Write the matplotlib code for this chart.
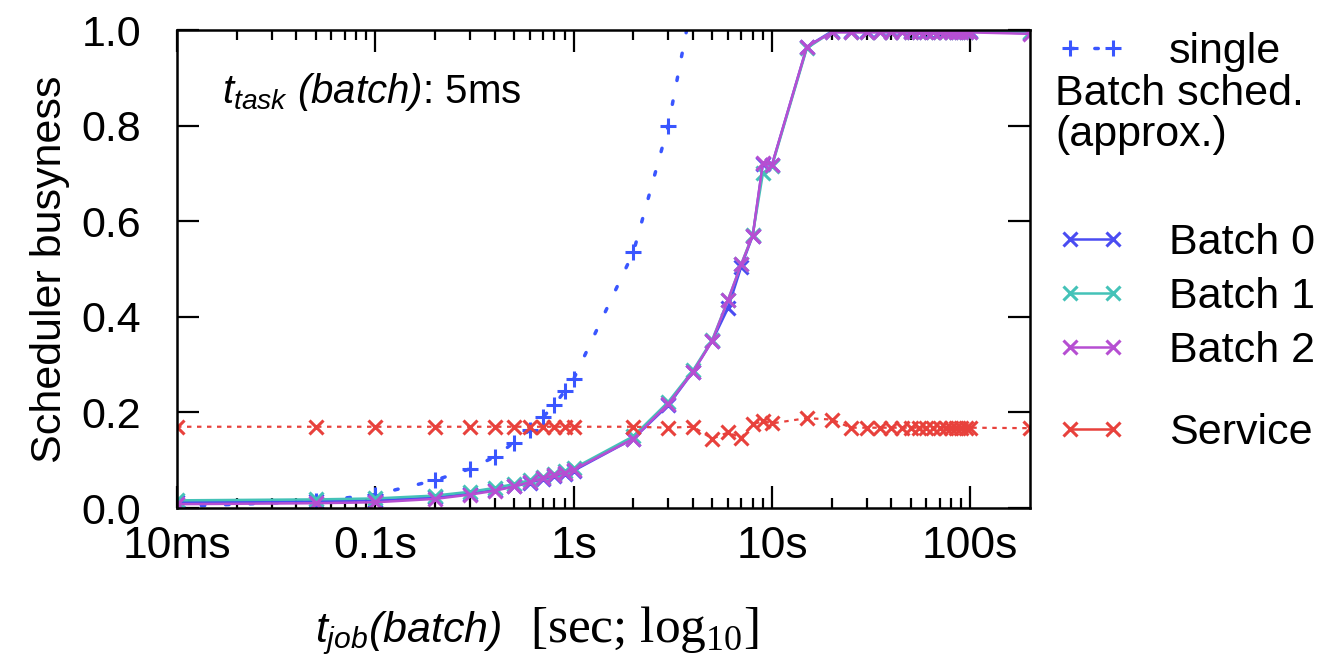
import matplotlib
matplotlib.use("Agg")
import matplotlib.pyplot as plt
from matplotlib.lines import Line2D
from matplotlib.ticker import FixedLocator, NullFormatter

plt.rcParams["font.family"] = ["Liberation Sans", "DejaVu Sans"]
# italic sans for the math parts (t_task, t_job, brackets), serif for "log"
plt.rcParams["mathtext.fontset"] = "custom"
plt.rcParams["mathtext.it"] = "Liberation Sans:italic"
plt.rcParams["mathtext.rm"] = "Liberation Sans:italic"
plt.rcParams["mathtext.sf"] = "Liberation Serif"

# job time (seconds) at which each point was measured
batch_x = [0.01, 0.05, 0.1, 0.2, 0.3, 0.4, 0.5, 0.6, 0.7, 0.8, 0.9, 1,
           2, 3, 4, 5, 6, 7, 8, 9, 10, 15, 20, 25, 30, 35, 40, 45, 50,
           55, 60, 65, 70, 75, 80, 85, 90, 95, 100, 200]
batch0 = [0.012, 0.014, 0.016, 0.022, 0.030, 0.038, 0.045, 0.053, 0.060,
          0.066, 0.072, 0.078, 0.145, 0.215, 0.285, 0.350, 0.418, 0.505,
          0.570, 0.720, 0.718, 0.965, 0.997, 0.997, 0.997, 0.997, 0.997,
          0.997, 0.997, 0.997, 0.997, 0.997, 0.997, 0.997, 0.997, 0.997,
          0.997, 0.997, 0.997, 0.993]
batch1 = [0.016, 0.018, 0.020, 0.026, 0.034, 0.042, 0.050, 0.058, 0.065,
          0.071, 0.077, 0.083, 0.150, 0.222, 0.288, 0.352, 0.435, 0.510,
          0.572, 0.700, 0.715, 0.962, 0.996, 0.996, 0.996, 0.996, 0.996,
          0.996, 0.996, 0.996, 0.996, 0.996, 0.996, 0.996, 0.996, 0.996,
          0.996, 0.996, 0.996, 0.995]
batch2 = [0.008, 0.010, 0.012, 0.019, 0.028, 0.036, 0.045, 0.054, 0.062,
          0.068, 0.074, 0.080, 0.145, 0.218, 0.285, 0.350, 0.435, 0.510,
          0.570, 0.722, 0.718, 0.965, 0.995, 0.995, 0.995, 0.995, 0.995,
          0.995, 0.995, 0.995, 0.995, 0.995, 0.995, 0.995, 0.995, 0.995,
          0.995, 0.995, 0.995, 0.992]
service = [0.170, 0.170, 0.170, 0.170, 0.170, 0.170, 0.170, 0.170, 0.170,
           0.170, 0.170, 0.170, 0.170, 0.168, 0.170, 0.145, 0.158, 0.147,
           0.175, 0.182, 0.177, 0.188, 0.185, 0.168, 0.168, 0.168, 0.168,
           0.168, 0.168, 0.168, 0.168, 0.168, 0.168, 0.168, 0.168, 0.168,
           0.168, 0.168, 0.168, 0.167]

single_x = [0.01, 0.05, 0.1, 0.2, 0.3, 0.4, 0.5, 0.6, 0.7, 0.8, 0.9, 1, 2, 3, 4]
single_y = [0.003, 0.014, 0.028, 0.058, 0.082, 0.107, 0.137, 0.163, 0.190,
            0.216, 0.244, 0.270, 0.535, 0.800, 1.070]

xticks = [0.01, 0.1, 1, 10, 100]
xticklabels = ["10ms", "0.1s", "1s", "10s", "100s"]
yticks = [0.0, 0.2, 0.4, 0.6, 0.8, 1.0]

C_SINGLE = "#3a56ff"
C_B0 = "#4a4cf2"
C_B1 = "#44c2b8"
C_B2 = "#b64ed2"
C_SVC = "#e8413c"
FS = 31

W, H = 1317, 657
fig = plt.figure(figsize=(W / 100, H / 100), dpi=100)
ax = fig.add_axes([177 / W, 1 - 508 / H, (1030 - 177) / W, (508 - 30) / H])

h_single, = ax.plot(single_x, single_y, color=C_SINGLE, ls=(0, (1, 6)), lw=2.5,
                    dash_capstyle="round", marker="+", ms=12, mew=2.2)
h_b0, = ax.plot(batch_x, batch0, color=C_B0, lw=1.8, marker="x", ms=10, mew=2.2)
h_b1, = ax.plot(batch_x, batch1, color=C_B1, lw=1.8, marker="x", ms=10, mew=2.2)
h_b2, = ax.plot(batch_x, batch2, color=C_B2, lw=1.8, marker="x", ms=10, mew=2.2)
ax.plot(batch_x, service, color=C_SVC, lw=1.6, ls=(0, (2, 2.5)),
        marker="x", ms=10, mew=2.2)

ax.set_xscale("log")
ax.set_xlim(0.01, 200)
ax.set_ylim(0, 1.0)
ax.set_xticks(xticks)
ax.set_xticklabels(xticklabels)
minors = [m * d for d in [0.01, 0.1, 1, 10] for m in range(2, 10)]
ax.xaxis.set_minor_locator(FixedLocator(minors))
ax.xaxis.set_minor_formatter(NullFormatter())
ax.set_yticks(yticks)
ax.set_yticklabels([f"{v:.1f}" for v in yticks])

ax.tick_params(which="both", direction="in", top=True, right=True, width=1.6)
ax.tick_params(which="major", length=16, labelsize=FS)
ax.tick_params(which="minor", length=7)
ax.tick_params(axis="x", which="major", pad=13, labelsize=32)
ax.tick_params(axis="y", which="major", pad=26)
for s in ax.spines.values():
    s.set_linewidth(1.8)

ax.set_ylabel("Scheduler busyness", fontsize=FS, labelpad=8)

# x label: italic sans part and a larger serif part on one baseline
fig.text(315 / W, 1 - 642 / H, r"$t_{job}(batch)$", fontsize=31,
         va="baseline", ha="left")
fig.text(530 / W, 1 - 642 / H, r"[sec; $\mathsf{log}_{\mathsf{10}}$]",
         fontsize=37, family="Liberation Serif", va="baseline", ha="left")

ax.text(0.053, 0.847, r"$t_{task}\ (batch)$: 5ms", transform=ax.transAxes,
        fontsize=29, va="baseline", ha="left")

# legend, split into groups the way the original key is spaced
common = dict(frameon=False, fontsize=31, handlelength=1.6, handletextpad=1.0,
              borderpad=0, borderaxespad=0, numpoints=2, loc="center left")
leg1 = fig.legend([h_single], ["single"], bbox_to_anchor=(1057 / W, 1 - 52 / H), **common)
fig.text(1055 / W, 1 - 94 / H, "Batch sched.", fontsize=31, va="center", ha="left")
fig.text(1055 / W, 1 - 135 / H, "(approx.)", fontsize=31, va="center", ha="left")
leg2 = fig.legend([h_b0, h_b1, h_b2], ["Batch 0", "Batch 1", "Batch 2"],
                  bbox_to_anchor=(1057 / W, 1 - 297 / H), labelspacing=0.33, **common)
svc_handle = Line2D([], [], color=C_SVC, lw=1.8, marker="x", ms=10, mew=2.2)
leg3 = fig.legend([svc_handle], ["Service"], bbox_to_anchor=(1057 / W, 1 - 433 / H), **common)

fig.savefig("out.png", dpi=100)
